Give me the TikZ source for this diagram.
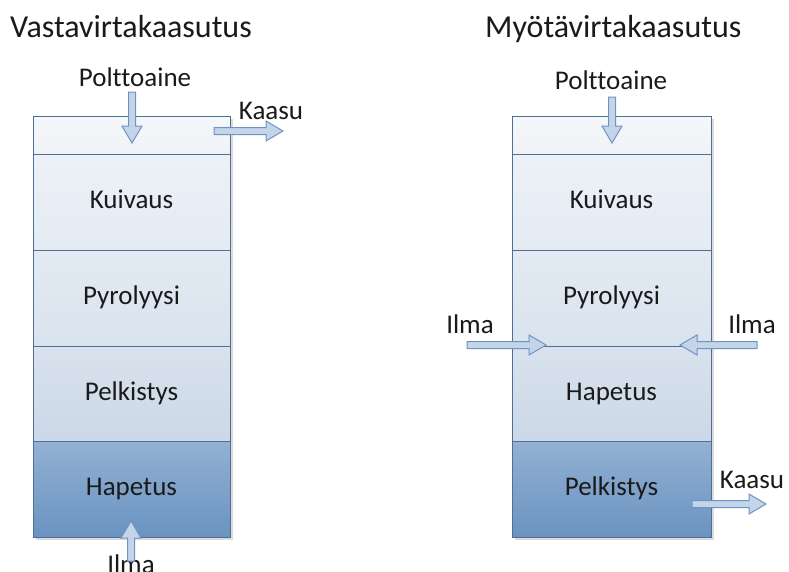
\documentclass[tikz,border=0pt]{standalone}
\usepackage{fontspec}
\setmainfont{Carlito}[Ligatures=NoCommon]
\usetikzlibrary{calc}
\definecolor{edgec}{HTML}{4F6F94}
\definecolor{arrowedge}{HTML}{7094C2}
\definecolor{arrowfill}{HTML}{C4D5EA}
\definecolor{txt}{HTML}{1A1A1A}
\tikzset{
  layer/.style={draw=edgec, line width=0.9pt, inner sep=0pt, text=txt,
    font=\fontsize{27}{30}\selectfont, text height=13pt, text depth=0pt},
  leftcol/.style={minimum width=197pt},
  rightcol/.style={minimum width=199pt},
  r0/.style={minimum height=38pt, top color={rgb,255:red,245;green,247;blue,250}, bottom color={rgb,255:red,239;green,242;blue,247}},
  r1/.style={minimum height=96pt, top color={rgb,255:red,237;green,241;blue,247}, bottom color={rgb,255:red,228;green,235;blue,243}},
  r2/.style={minimum height=96pt, top color={rgb,255:red,227;green,234;blue,242}, bottom color={rgb,255:red,217;green,227;blue,238}},
  r3/.style={minimum height=95pt, top color={rgb,255:red,217;green,226;blue,237}, bottom color={rgb,255:red,203;green,216;blue,231}},
  r4/.style={minimum height=96pt, top color={rgb,255:red,147;green,177;blue,211}, bottom color={rgb,255:red,106;green,147;blue,193}},
  label/.style={inner sep=0pt, text=txt, font=\fontsize{27}{30}\selectfont},
  title/.style={inner sep=0pt, text=txt, font=\fontsize{32}{36}\selectfont},
  flow/.style={line width=1pt, draw=arrowedge, fill=arrowfill, line join=miter},
  shadowbox/.style={fill=black, opacity=0.14, draw=none}
}
% block arrow: #1 start, #2 end (tip), #3 #4 unit direction
\newcommand\barrow[4]{%
 \filldraw[flow]
  ($(#1)+({-3.5*(#4)},{3.5*(#3)})$)
  -- ($(#2)+({-17*(#3)-3.5*(#4)},{-17*(#4)+3.5*(#3)})$)
  -- ($(#2)+({-17*(#3)-10*(#4)},{-17*(#4)+10*(#3)})$)
  -- (#2)
  -- ($(#2)+({-17*(#3)+10*(#4)},{-17*(#4)-10*(#3)})$)
  -- ($(#2)+({-17*(#3)+3.5*(#4)},{-17*(#4)-3.5*(#3)})$)
  -- ($(#1)+({3.5*(#4)},{-3.5*(#3)})$) -- cycle;}
\begin{document}
\begin{tikzpicture}[x=1pt,y=-1pt]
\useasboundingbox (0,0) rectangle (789,571);
\fill[white] (0,0) rectangle (789,571);
% titles
\node[title, anchor=base west] (t1) at (10,37) {Vastavirtakaasutus};
\node[title, anchor=base west] (t2) at (485,37) {Myötävirtakaasutus};
% shadows
\fill[shadowbox] (35.5,118.5) rectangle (233,539.5);
\fill[shadowbox] (514.5,118.5) rectangle (714,539.5);
% left column
\node[layer, leftcol, r0] (l0) at (131.5,135) {};
\node[layer, leftcol, r1] (l1) at (131.5,202) {Kuivaus};
\node[layer, leftcol, r2] (l2) at (131.5,298) {Pyrolyysi};
\node[layer, leftcol, r3] (l3) at (131.5,393.5) {Pelkistys};
\node[layer, leftcol, r4] (l4) at (131.5,489) {Hapetus};
% right column
\node[layer, rightcol, r0] (m0) at (611.5,135) {};
\node[layer, rightcol, r1] (m1) at (611.5,202) {Kuivaus};
\node[layer, rightcol, r2] (m2) at (611.5,298) {Pyrolyysi};
\node[layer, rightcol, r3] (m3) at (611.5,393.5) {Hapetus};
\node[layer, rightcol, r4] (m4) at (611.5,489) {Pelkistys};
% labels
\node[label, anchor=base] (pl) at (135,86) {Polttoaine};
\node[label, anchor=base] (kl) at (271,119) {Kaasu};
\node[label, anchor=base] (il) at (131,573) {Ilma};
\node[label, anchor=base] (pr) at (611,89) {Polttoaine};
\node[label, anchor=base] (ia) at (470,333) {Ilma};
\node[label, anchor=base] (ib) at (752,333) {Ilma};
\node[label, anchor=base] (kr) at (752,488) {Kaasu};
% arrow endpoints
\coordinate (pl1) at (132,92);  \coordinate (pl2) at (132,143);
\coordinate (kl1) at (214,131); \coordinate (kl2) at (283,131);
\coordinate (il1) at (131,561); \coordinate (il2) at (131,521);
\coordinate (pr1) at (612,97);  \coordinate (pr2) at (612,143);
\coordinate (ia1) at (467,345); \coordinate (ia2) at (546,345);
\coordinate (ib1) at (757,345); \coordinate (ib2) at (680,345);
\coordinate (kr1) at (692,504); \coordinate (kr2) at (766,504);
\barrow{pl1}{pl2}{0}{1}
\barrow{kl1}{kl2}{1}{0}
\barrow{il1}{il2}{0}{-1}
\barrow{pr1}{pr2}{0}{1}
\barrow{ia1}{ia2}{1}{0}
\barrow{ib1}{ib2}{-1}{0}
\barrow{kr1}{kr2}{1}{0}
\end{tikzpicture}
\end{document}
